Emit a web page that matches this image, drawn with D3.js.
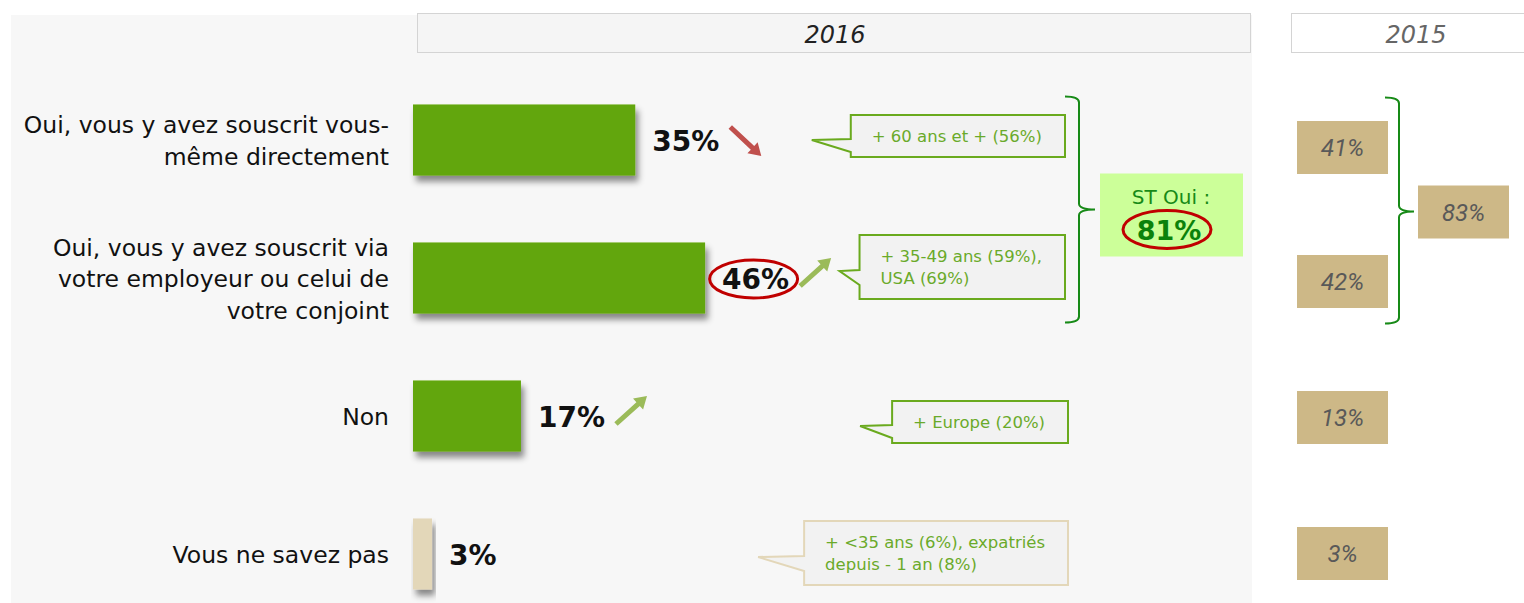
<!DOCTYPE html>
<html>
<head>
<meta charset="utf-8">
<script src="https://cdn.jsdelivr.net/npm/d3@7"></script>
<style>
  body { margin: 0; background: #fff; }
  svg { display: block; }
</style>
</head>
<body>
<div id="chart"></div>
<script>
// Chart data
var categories = [
  "Oui, vous y avez souscrit vous-|même directement",
  "Oui, vous y avez souscrit via|votre employeur ou celui de|votre conjoint",
  "Non",
  "Vous ne savez pas"
];
var values2016 = [35, 46, 17, 3];
var values2015 = [41, 42, 13, 3];
var trends = ["down", "up", "up", null];
var highlighted = [false, true, false, false];
var callouts = [
  "+ 60 ans et + (56%)",
  "+ 35-49 ans (59%),|USA (69%)",
  "+ Europe (20%)",
  "+ <35 ans (6%), expatriés|depuis - 1 an (8%)"
];
var subtotalLabel = "ST Oui :";
var subtotal2016 = 81;
var subtotal2015 = 83;
var yearLabels = ["2016", "2015"];

// small layout nudges (callout / 2015 box shift vs. bar centre, callout pointer length)
var calloutShift = [-4, -11, 6, -1];
var pointerLength = [39, 20, 32, 46];
var box2015Shift = [7, 3, 1, -1];

// canvas
var svgWidth = 1524;
var svgHeight = 603;

var svg = d3.select("#chart")
  .append("svg")
  .attr("width", svgWidth)
  .attr("height", svgHeight);

var defs = svg.append("defs");
defs.append("filter")
  .attr("id", "shadow")
  .attr("x", "-10%").attr("y", "-10%")
  .attr("width", "130%").attr("height", "140%")
  .append("feDropShadow")
  .attr("dx", 3).attr("dy", 6)
  .attr("stdDeviation", 3)
  .attr("flood-color", "#000")
  .attr("flood-opacity", 0.45);

// grey panel behind 2016 part
svg.append("rect")
  .attr("x", 11).attr("y", 15)
  .attr("width", 1241).attr("height", 590)
  .attr("fill", "#f7f7f7");

// year headers
svg.append("rect")
  .attr("x", 417.5).attr("y", 13.5)
  .attr("width", 833).attr("height", 39)
  .attr("fill", "#f5f5f5")
  .attr("stroke", "#d4d4d4");
svg.append("text")
  .attr("x", 835).attr("y", 43)
  .attr("text-anchor", "middle")
  .style("font-family", "DejaVu Sans")
  .style("font-style", "italic")
  .style("font-size", "24px")
  .attr("fill", "#222")
  .text(yearLabels[0]);

svg.append("rect")
  .attr("x", 1291.5).attr("y", 13.5)
  .attr("width", 240).attr("height", 39)
  .attr("fill", "#fff")
  .attr("stroke", "#d4d4d4");
svg.append("text")
  .attr("x", 1416).attr("y", 43)
  .attr("text-anchor", "middle")
  .style("font-family", "DejaVu Sans")
  .style("font-style", "italic")
  .style("font-size", "24px")
  .attr("fill", "#666")
  .text(yearLabels[1]);

// scales
var barLeft = 413;
var x = d3.scaleLinear().domain([0, 100]).range([0, 635]);
var y = d3.scaleBand()
  .domain(categories)
  .range([71, 623])
  .paddingInner(0.485)
  .paddingOuter(0.2425);
var cy = d => y(d) + y.bandwidth() / 2;

// category labels
var catGroup = svg.append("g");
categories.forEach(function(c) {
  var lines = c.split("|");
  var t = catGroup.append("text")
    .attr("text-anchor", "end")
    .style("font-family", "DejaVu Sans")
    .style("font-size", "23.5px")
    .attr("fill", "#111");
  lines.forEach(function(l, i) {
    t.append("tspan")
      .attr("x", 389)
      .attr("y", cy(c) + (i - (lines.length - 1) / 2) * 31.5 + 9)
      .text(l);
  });
});

// bars
svg.append("g")
  .selectAll("rect")
  .data(values2016)
  .enter()
  .append("rect")
  .attr("x", barLeft)
  .attr("y", (d, i) => y(categories[i]))
  .attr("width", d => x(d))
  .attr("height", y.bandwidth())
  .attr("fill", (d, i) => i === 3 ? "#e3d7b9" : "#62a60b")
  .attr("filter", "url(#shadow)");

// value labels
var valueLabels = svg.append("g")
  .selectAll("text")
  .data(values2016)
  .enter()
  .append("text")
  .attr("x", d => barLeft + x(d) + 17)
  .attr("y", (d, i) => cy(categories[i]) + 11)
  .style("font-family", "DejaVu Sans")
  .style("font-weight", "bold")
  .style("font-size", "28px")
  .attr("fill", "#111")
  .text(d => d + "%");

// trend arrows and highlight ellipse
valueLabels.each(function(d, i) {
  var box = this.getBBox();
  var c = cy(categories[i]);
  if (highlighted[i]) {
    svg.append("ellipse")
      .attr("cx", box.x + box.width / 2 - 2)
      .attr("cy", c + 1)
      .attr("rx", 44).attr("ry", 19)
      .attr("fill", "none")
      .attr("stroke", "#c00000")
      .attr("stroke-width", 3);
  }
  if (!trends[i]) return;
  var x0 = box.x + box.width + 11;
  var up = trends[i] === "up";
  var y0 = up ? c + 8 : c - 13;
  var y1 = up ? c - 20 : c + 16;
  var x1 = x0 + 31;
  var ang = Math.atan2(y1 - y0, x1 - x0);
  var len = Math.hypot(x1 - x0, y1 - y0);
  var g = svg.append("g")
    .attr("transform", `translate(${x0},${y0}) rotate(${ang * 180 / Math.PI})`);
  g.append("path")
    .attr("d", `M0,-2.5 L${len - 12},-2.5 L${len - 12},-7.5 L${len},0 L${len - 12},7.5 L${len - 12},2.5 L0,2.5 Z`)
    .attr("fill", up ? "#9bbb59" : "#c0504d");
});

// callouts
var calloutRight = [1065, 1065, 1068, 1068];
callouts.forEach(function(txt, i) {
  var lines = txt.split("|");
  var c = cy(categories[i]) + calloutShift[i];
  var isBeige = i === 3;
  var g = svg.append("g");
  var shape = g.append("path");
  var t = g.append("text")
    .style("font-family", "DejaVu Sans")
    .style("font-size", "16.5px")
    .attr("fill", "#6aaa2a");
  lines.forEach(function(l, k) {
    t.append("tspan")
      .attr("y", c + (k - (lines.length - 1) / 2) * 22 + 6)
      .text(l);
  });
  var w = d3.max(t.selectAll("tspan").nodes(), n => n.getComputedTextLength());
  var boxW = w + 44;
  var boxH = lines.length > 1 ? 64 : 42;
  var left = calloutRight[i] - boxW;
  var top = c - boxH / 2;
  t.selectAll("tspan").attr("x", left + 21);
  var b0 = c + 3, b1 = c + Math.min(18, boxH / 2 - 5);
  shape.attr("d", `M${left},${top} L${left + boxW},${top} L${left + boxW},${top + boxH} L${left},${top + boxH} L${left},${b1} L${left - pointerLength[i]},${c + 4} L${left},${b0} Z`)
    .attr("fill", "#f2f2f2")
    .attr("stroke", isBeige ? "#e3d7b9" : "#6aaa1e")
    .attr("stroke-width", 2);
});

// curly bracket helper
function brace(xv, top, bottom, mid, hook, nub) {
  var r = 6;
  return `M${xv - hook},${top} Q${xv},${top} ${xv},${top + r}` +
    ` L${xv},${mid - r} Q${xv},${mid} ${xv + nub},${mid}` +
    ` Q${xv},${mid} ${xv},${mid + r}` +
    ` L${xv},${bottom - r} Q${xv},${bottom} ${xv - hook},${bottom}`;
}

var yTop = y(categories[0]) - 8;
var yBottom = y(categories[1]) + y.bandwidth() + 9;
var yMid = (yTop + yBottom) / 2;

svg.append("path")
  .attr("d", brace(1079, yTop, yBottom, yMid, 14, 16))
  .attr("fill", "none")
  .attr("stroke", "#178a17")
  .attr("stroke-width", 2);

// subtotal box 2016
svg.append("rect")
  .attr("x", 1100).attr("y", yMid - 36)
  .attr("width", 143).attr("height", 83)
  .attr("fill", "#ccff99");
svg.append("text")
  .attr("x", 1171).attr("y", yMid - 6)
  .attr("text-anchor", "middle")
  .style("font-family", "DejaVu Sans")
  .style("font-size", "20px")
  .attr("fill", "#178a17")
  .text(subtotalLabel);
svg.append("text")
  .attr("x", 1169).attr("y", yMid + 30)
  .attr("text-anchor", "middle")
  .style("font-family", "DejaVu Sans")
  .style("font-weight", "bold")
  .style("font-size", "27px")
  .attr("fill", "#0b820b")
  .text(subtotal2016 + "%");
svg.append("ellipse")
  .attr("cx", 1167).attr("cy", yMid + 20)
  .attr("rx", 44).attr("ry", 19)
  .attr("fill", "none")
  .attr("stroke", "#c00000")
  .attr("stroke-width", 3);

// 2015 column
var box2015 = svg.append("g")
  .selectAll("g")
  .data(values2015)
  .enter()
  .append("g")
  .attr("transform", (d, i) => `translate(1297,${cy(categories[i]) - 26 + box2015Shift[i]})`);
box2015.append("rect")
  .attr("width", 91).attr("height", 53)
  .attr("fill", "#cdb887");
box2015.append("text")
  .attr("x", 45.5).attr("y", 35)
  .attr("text-anchor", "middle")
  .style("font-family", "Roboto")
  .style("font-style", "italic")
  .style("font-size", "24px")
  .attr("fill", "#595959")
  .text(d => d + "%");

svg.append("path")
  .attr("d", brace(1399, yTop + 1, yBottom + 1, yMid + 2, 14, 15))
  .attr("fill", "none")
  .attr("stroke", "#178a17")
  .attr("stroke-width", 2);

var sub2015 = svg.append("g")
  .attr("transform", `translate(1418,${yMid - 24})`);
sub2015.append("rect")
  .attr("width", 91).attr("height", 53)
  .attr("fill", "#cdb887");
sub2015.append("text")
  .attr("x", 45.5).attr("y", 35)
  .attr("text-anchor", "middle")
  .style("font-family", "Roboto")
  .style("font-style", "italic")
  .style("font-size", "24px")
  .attr("fill", "#595959")
  .text(subtotal2015 + "%");
</script>
</body>
</html>
